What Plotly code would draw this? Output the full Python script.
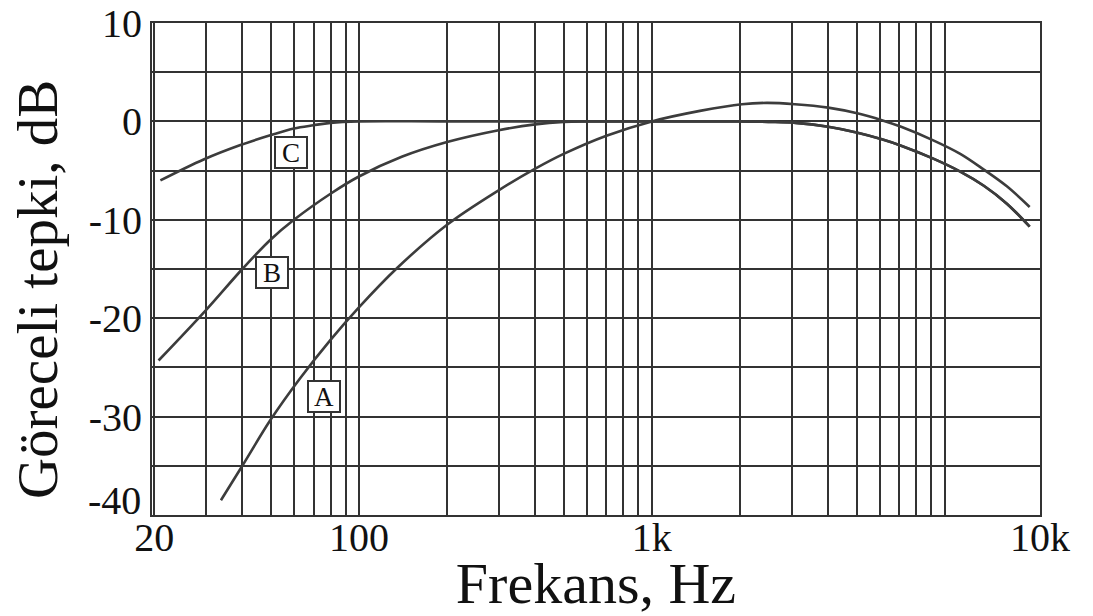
import plotly.graph_objects as go
import numpy as np

# ---- data ----
a_freq = [33.8, 40, 50, 63, 80, 100, 135, 200, 300, 400, 500, 700, 1000, 1460, 2030, 2470, 3080, 4000, 5070, 6100, 7100, 9100, 11300, 13600, 16300, 19500]
a_db = [-38.5, -35.0, -30.3, -26.1, -22.2, -18.9, -14.9, -10.5, -7.0, -4.8, -3.3, -1.45, 0.0, 1.07, 1.75, 1.88, 1.75, 1.4, 0.8, 0.12, -0.55, -1.9, -3.3, -4.9, -6.6, -8.7]

b_freq = [20.7, 30, 40, 50, 60, 80, 100, 140, 200, 300, 400, 500, 600, 1000, 2000, 2500, 3100, 4000, 5000, 6100, 7100, 9100, 11300, 13600, 16300, 19500]
b_db = [-24.3, -19.2, -15.0, -12.0, -10.0, -7.35, -5.6, -3.6, -2.1, -0.9, -0.3, -0.05, 0.0, 0.0, 0.0, -0.05, -0.15, -0.55, -1.13, -1.82, -2.47, -3.76, -5.1, -6.54, -8.36, -10.7]

c_freq = [21, 29.5, 39.4, 50, 60, 70, 80, 100, 200, 1000, 2000, 2500, 3100, 4000, 5000, 6100, 7100, 9100, 11300, 13600, 16300, 19500]
c_db = [-6.0, -3.87, -2.4, -1.4, -0.72, -0.39, -0.15, 0.0, 0.0, 0.0, 0.0, -0.05, -0.15, -0.55, -1.13, -1.82, -2.47, -3.76, -5.1, -6.54, -8.36, -10.7]

curve_labels = ["A", "B", "C"]
label_freq = [76, 50.5, 58.8]
label_db = [-28.0, -15.4, -3.2]

x_tick_vals = [20, 100, 1000, 21150]
x_tick_text = ["20", "100", "1k", "10k"]
x_grid_vals = [20, 30, 40, 50, 60, 70, 80, 90, 100,
               200, 300, 400, 500, 600, 700, 800, 900, 1000,
               2000, 3000, 4000, 5000, 6000, 7000, 8000, 9000, 10000]
y_label_vals = [10, 0, -10, -20, -30]
y_label_text = ["10", "0", "-10", "-20", "-30"]
y_bottom_label = "-40"
y_bottom_label_pos = -38.5

x_range = [19.66, 21150]
y_range = [-40, 10]

x_title = "Frekans, Hz"
y_title = "Göreceli tepki, dB"

# ---- figure ----
FONT = "Liberation Serif, Times New Roman, serif"
INK = "#333333"
LINE = "#3c3c3c"
TXT = "#111111"

fig = go.Figure()
for fr, db in [(a_freq, a_db), (b_freq, b_db), (c_freq, c_db)]:
    fig.add_trace(go.Scatter(x=fr, y=db, mode="lines",
                             line=dict(color=LINE, width=2.6, shape="spline", smoothing=1.0),
                             showlegend=False, hoverinfo="skip"))

xt_vals = list(x_grid_vals) + [v for v in x_tick_vals if v not in x_grid_vals]
xt_text = [x_tick_text[x_tick_vals.index(v)] if v in x_tick_vals else "" for v in xt_vals]

y_grid = list(range(y_range[0], y_range[1] + 1, 5))
yt_text = [y_label_text[y_label_vals.index(v)] if v in y_label_vals else "" for v in y_grid]

xaxis_opts = dict(type="log", range=[np.log10(x_range[0]), np.log10(x_range[1])],
                  tickmode="array", tickvals=xt_vals, ticktext=xt_text,
                  showgrid=True, gridcolor=INK, gridwidth=2,
                  showline=True, linecolor=INK, linewidth=2, mirror=True,
                  ticks="", tickfont=dict(family=FONT, size=40, color=TXT),
                  title=dict(text=x_title, font=dict(family=FONT, size=58, color=TXT), standoff=2),
                  zeroline=False, automargin=False)
try:
    fig.update_xaxes(ticklabelstandoff=-14, **xaxis_opts)
except Exception:
    fig.update_xaxes(ticklabelstandoff=0, **xaxis_opts)

fig.update_yaxes(range=y_range, tickmode="array", tickvals=y_grid, ticktext=yt_text,
                 showgrid=True, gridcolor=INK, gridwidth=2,
                 showline=True, linecolor=INK, linewidth=2, mirror=True,
                 ticks="", ticklabelstandoff=0,
                 tickfont=dict(family=FONT, size=40, color=TXT),
                 zeroline=False, automargin=False)

annotations = []
for lab, fx, fy in zip(curve_labels, label_freq, label_db):
    annotations.append(dict(x=np.log10(fx), y=fy, xref="x", yref="y", text=lab, showarrow=False,
                            font=dict(family=FONT, size=27, color=TXT),
                            bgcolor="white", bordercolor=INK, borderwidth=2, borderpad=0,
                            width=30, height=29, align="center", valign="middle"))
annotations.append(dict(x=0, y=y_bottom_label_pos, xref="paper", yref="y", text=y_bottom_label,
                        showarrow=False, xanchor="right", yanchor="middle", xshift=-9,
                        font=dict(family=FONT, size=40, color=TXT)))
annotations.append(dict(x=-0.129, y=0.458, xref="paper", yref="paper", text=y_title,
                        showarrow=False, textangle=-90, xanchor="center", yanchor="middle",
                        font=dict(family=FONT, size=57, color=TXT)))

fig.update_layout(width=1093, height=616, margin=dict(l=152, r=53, t=23, b=101),
                  plot_bgcolor="white", paper_bgcolor="white",
                  annotations=annotations)

fig.write_html("out.html")
